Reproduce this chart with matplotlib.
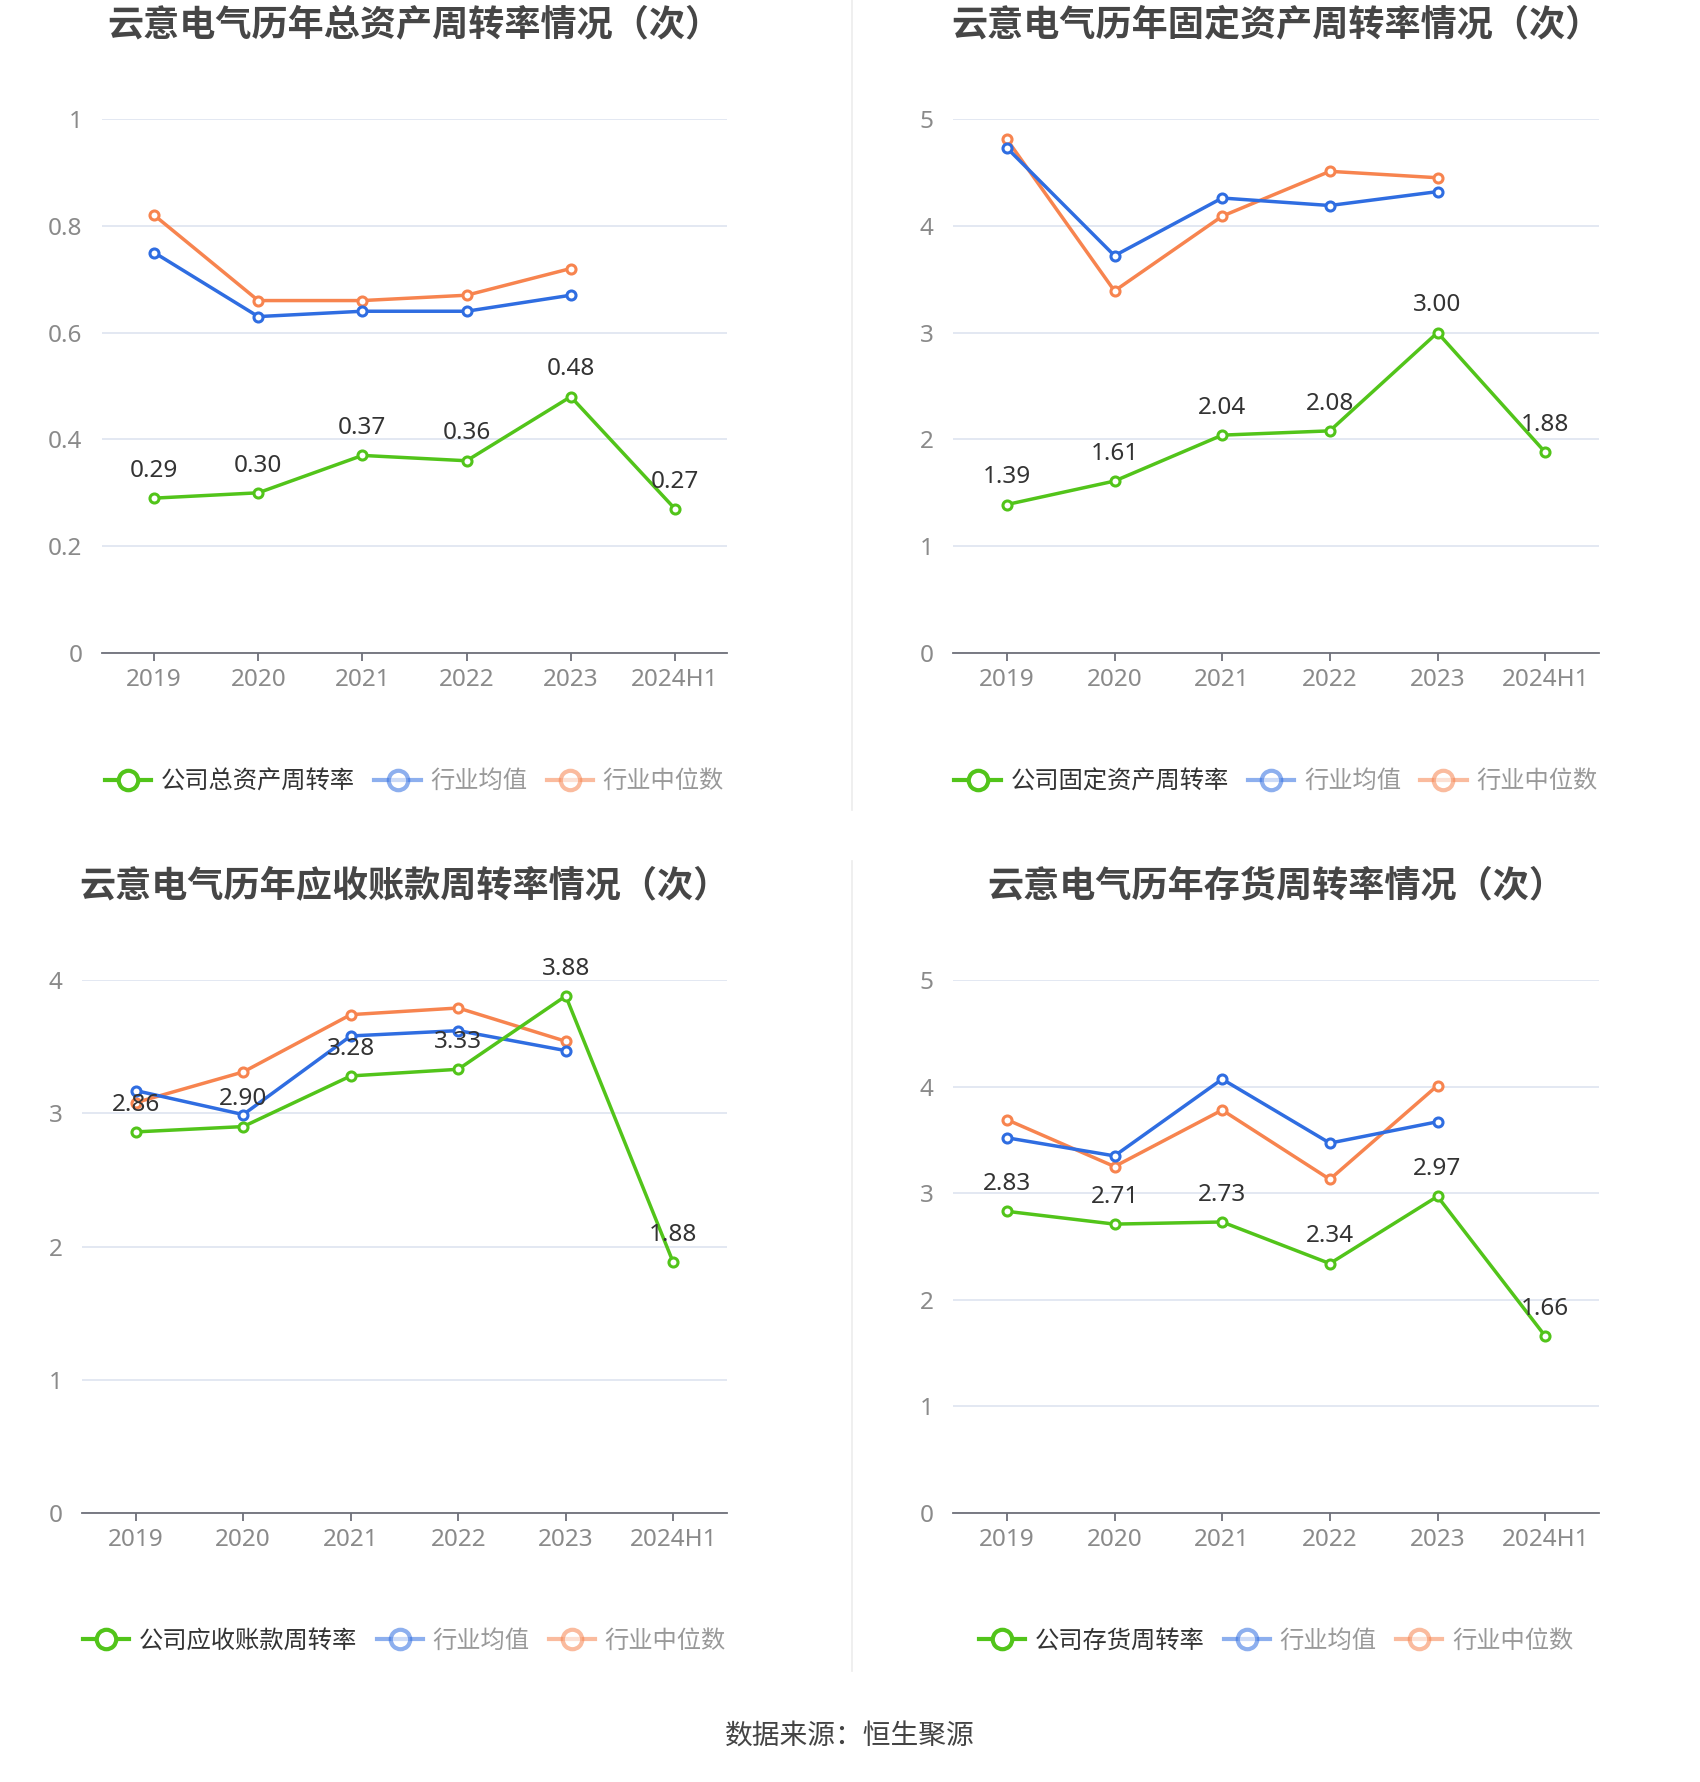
import matplotlib
matplotlib.use("Agg")
import matplotlib.pyplot as plt
from matplotlib.lines import Line2D

plt.rcParams['font.family'] = ['Noto Sans CJK SC', 'DejaVu Sans']

years = ["2019", "2020", "2021", "2022", "2023", "2024H1"]

# 总资产周转率
total_company = [0.29, 0.30, 0.37, 0.36, 0.48, 0.27]
total_mean = [0.75, 0.63, 0.64, 0.64, 0.67]
total_median = [0.82, 0.66, 0.66, 0.67, 0.72]

# 固定资产周转率
fixed_company = [1.39, 1.61, 2.04, 2.08, 3.00, 1.88]
fixed_mean = [4.73, 3.72, 4.26, 4.19, 4.32]
fixed_median = [4.81, 3.39, 4.09, 4.51, 4.45]

# 应收账款周转率
recv_company = [2.86, 2.90, 3.28, 3.33, 3.88, 1.88]
recv_mean = [3.17, 2.99, 3.58, 3.62, 3.47]
recv_median = [3.08, 3.31, 3.74, 3.79, 3.54]

# 存货周转率
inv_company = [2.83, 2.71, 2.73, 2.34, 2.97, 1.66]
inv_mean = [3.52, 3.35, 4.07, 3.47, 3.67]
inv_median = [3.69, 3.25, 3.78, 3.13, 4.01]

GREEN = '#52c41a'
BLUE = '#2f6de1'
ORANGE = '#f7844f'

W, H = 1700, 1782
fig = plt.figure(figsize=(W / 100, H / 100), dpi=100)


def px_axes(left, right, top, bottom):
    return fig.add_axes([left / W, 1 - bottom / H, (right - left) / W, (bottom - top) / H])


def draw_panel(ax, title, company, mean, median, label, ymax, yticks, yfmt):
    x = list(range(len(years)))
    for vals, col in [(median, ORANGE), (mean, BLUE)]:
        ax.plot(x[:len(vals)], vals, color=col, lw=2.5, marker='o', ms=6.5,
                mfc='white', mec=col, mew=2.2, zorder=3)
    ax.plot(x, company, color=GREEN, lw=2.5, marker='o', ms=6.5,
            mfc='white', mec=GREEN, mew=2.2, zorder=4)
    for xi, v in zip(x, company):
        ax.annotate(f"{v:.2f}", (xi, v), xytext=(0, 11), textcoords='offset points',
                    ha='center', va='bottom', fontsize=17.5, color='#333333', zorder=5,
                    family=['Noto Sans', 'DejaVu Sans'])
    ax.set_xlim(-0.5, len(years) - 0.5)
    ax.set_ylim(0, ymax)
    ax.set_yticks(yticks)
    ax.set_yticklabels([yfmt(t) for t in yticks])
    ax.set_xticks(x)
    ax.set_xticklabels(years)
    ax.grid(axis='y', color='#e0e6f1', lw=1.3)
    ax.set_axisbelow(True)
    for s in ['top', 'right', 'left']:
        ax.spines[s].set_visible(False)
    ax.spines['bottom'].set_color('#6e7079')
    ax.spines['bottom'].set_linewidth(1.3)
    ax.tick_params(axis='y', length=0, pad=14, labelsize=17.5, labelcolor='#8a8a8a')
    ax.tick_params(axis='x', length=6, width=1.3, color='#6e7079', pad=5,
                   labelsize=17.5, labelcolor='#8a8a8a')
    for t in ax.get_xticklabels() + ax.get_yticklabels():
        t.set_family(['Noto Sans', 'DejaVu Sans'])
    ax.set_title(title, fontsize=26, fontweight='heavy', color='#464646', pad=0, y=1.0)

    handles = [
        Line2D([], [], color=GREEN, lw=3, marker='o', ms=14, mfc='white', mec=GREEN, mew=3),
        Line2D([], [], color=BLUE, lw=3, marker='o', ms=14, mfc='white', mec=BLUE, mew=3, alpha=0.55),
        Line2D([], [], color=ORANGE, lw=3, marker='o', ms=14, mfc='white', mec=ORANGE, mew=3, alpha=0.55),
    ]
    leg = ax.legend(handles, [label, '行业均值', '行业中位数'], loc='center',
                    bbox_to_anchor=(0.5, -0.24), ncol=3, frameon=False, fontsize=17.5,
                    handlelength=1.9, handletextpad=0.4, columnspacing=0.8)
    cols = ['#333333', '#999999', '#999999']
    for t, c in zip(leg.get_texts(), cols):
        t.set_color(c)
    return ax


dec1 = lambda t: '0' if t == 0 else ('1' if t == 1 else f"{t:.1f}")
intf = lambda t: f"{t:g}"

ax1 = px_axes(102, 727, 119, 653)
draw_panel(ax1, '云意电气历年总资产周转率情况（次）', total_company, total_mean, total_median,
           '公司总资产周转率', 1.0, [0, 0.2, 0.4, 0.6, 0.8, 1.0], dec1)
ax2 = px_axes(953, 1599, 119, 653)
draw_panel(ax2, '云意电气历年固定资产周转率情况（次）', fixed_company, fixed_mean, fixed_median,
           '公司固定资产周转率', 5, [0, 1, 2, 3, 4, 5], intf)
ax3 = px_axes(82, 727, 980, 1513)
draw_panel(ax3, '云意电气历年应收账款周转率情况（次）', recv_company, recv_mean, recv_median,
           '公司应收账款周转率', 4, [0, 1, 2, 3, 4], intf)
ax4 = px_axes(953, 1599, 980, 1513)
draw_panel(ax4, '云意电气历年存货周转率情况（次）', inv_company, inv_mean, inv_median,
           '公司存货周转率', 5, [0, 1, 2, 3, 4, 5], intf)

# 标题位置微调（以像素为准）
for ax, ty in [(ax1, 25), (ax2, 25), (ax3, 886), (ax4, 886)]:
    bb = ax.get_position()
    ax.title.set_position((0.5, (1 - ty / H - bb.y0) / bb.height))
    ax.title.set_va('center')

# 分隔线
fig.add_artist(Line2D([852 / W, 852 / W], [1 - 0 / H, 1 - 810 / H], color='#eeeeee', lw=1.3))
fig.add_artist(Line2D([852 / W, 852 / W], [1 - 861 / H, 1 - 1671 / H], color='#eeeeee', lw=1.3))

fig.text(0.5, 1 - 1737 / H, '数据来源：恒生聚源', ha='center', va='center', fontsize=20, color='#444444')

fig.savefig('out.png', dpi=100, facecolor='white')
